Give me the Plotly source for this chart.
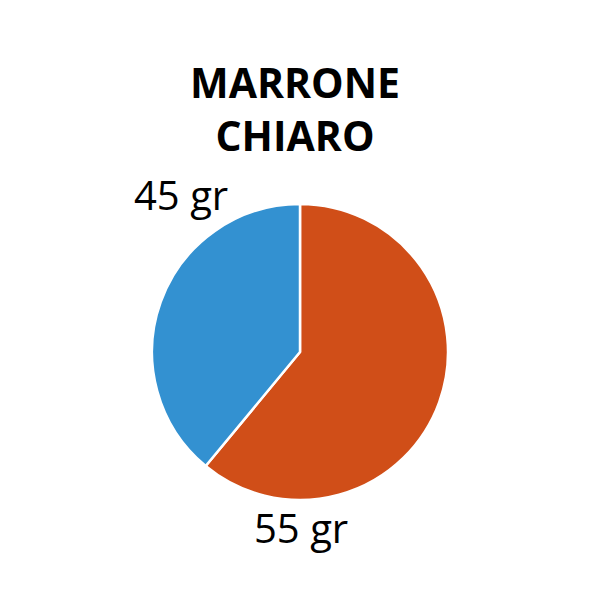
import plotly.graph_objects as go

# slice data (label text from the picture, slice sizes as drawn)
labels = ["55 gr", "45 gr"]
values = [61, 39]
colors = ["#D04E18", "#3391D1"]
title_lines = ["MARRONE", "CHIARO"]

fig = go.Figure()
fig.add_trace(go.Pie(
    labels=labels,
    values=values,
    sort=False,
    direction="clockwise",
    rotation=0,
    marker=dict(colors=colors, line=dict(color="white", width=2.5)),
    textinfo="none",
    hoverinfo="label",
    showlegend=False,
    domain=dict(x=[144/600, 440/600], y=[108/600, 404/600]),
))

# labels sit outside the pie
fig.add_annotation(x=293/600, y=1 - 519/600, text=labels[0], showarrow=False,
                   xref="paper", yref="paper", xanchor="center", yanchor="middle",
                   font=dict(size=40, color="black", family="Open Sans"))
fig.add_annotation(x=173/600, y=1 - 186/600, text=labels[1], showarrow=False,
                   xref="paper", yref="paper", xanchor="center", yanchor="middle",
                   font=dict(size=40, color="black", family="Open Sans"))

fig.update_layout(
    width=600, height=600,
    margin=dict(l=0, r=0, t=0, b=0),
    paper_bgcolor="white",
    plot_bgcolor="white",
    title=dict(text="<b>" + "<br>".join(title_lines) + "</b>",
               x=287/600, xanchor="center", y=1 - 90/600, yanchor="middle",
               font=dict(size=41, color="black", family="Open Sans")),
)

fig.write_html("out.html")
